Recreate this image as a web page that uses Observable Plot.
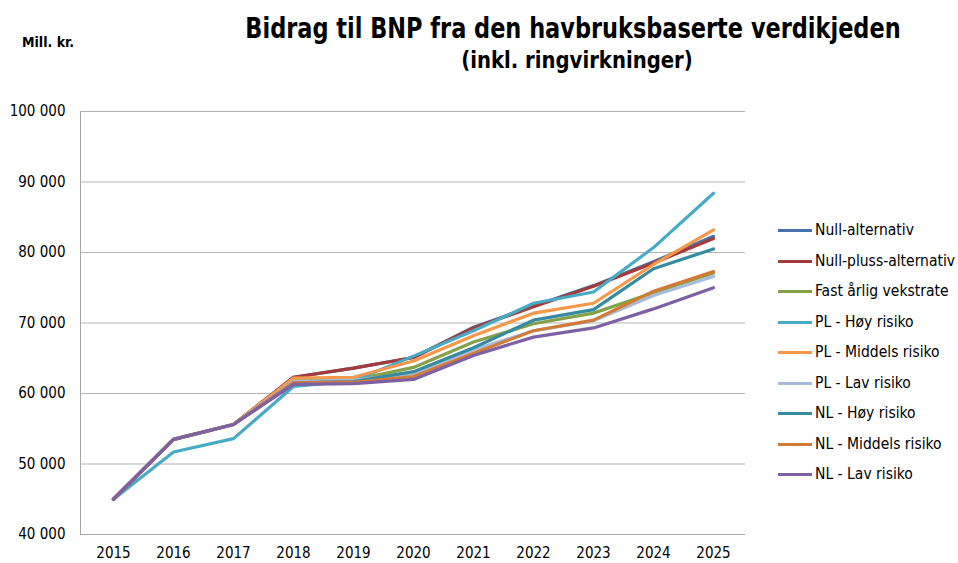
<!DOCTYPE html>
<html><head><meta charset="utf-8">
<script src="https://cdn.jsdelivr.net/npm/d3@7"></script>
<script src="https://cdn.jsdelivr.net/npm/@observablehq/plot@0.6"></script>
<style>
body{margin:0;background:#fff;font-family:"Liberation Sans Narrow","DejaVu Sans Condensed",sans-serif;color:#000;}
#wrap{position:relative;width:958px;height:563px;overflow:hidden;}
#head{position:relative;height:90px;}
#title{position:absolute;left:0;width:1146px;top:11px;text-align:center;font-weight:bold;font-size:29px;white-space:nowrap;transform:scaleX(0.86);transform-origin:573px 0;}
#sub{position:absolute;left:0;width:1154px;top:47px;text-align:center;font-weight:bold;font-size:23px;white-space:nowrap;transform:scaleX(0.95);transform-origin:577px 0;}
#unit{position:absolute;left:22px;top:34px;font-weight:bold;font-size:14px;}
#legend{position:absolute;left:778px;top:0;}
.row{position:absolute;left:0;white-space:nowrap;font-size:15.5px;height:20px;}
.sw{position:absolute;left:0;top:9px;width:34px;height:3px;}
.lb{position:absolute;left:37px;top:0;line-height:20px;}
</style></head><body>
<div id="wrap">
  <div id="head"><div id="unit">Mill. kr.</div><div id="title">Bidrag til BNP fra den havbruksbaserte verdikjeden</div><div id="sub">(inkl. ringvirkninger)</div></div>
  <div id="chart"></div>
  <div id="legend"></div>
</div>
<script>
const years = [2015,2016,2017,2018,2019,2020,2021,2022,2023,2024,2025];
const seriesNames = ["Null-alternativ","Null-pluss-alternativ","Fast årlig vekstrate","PL - Høy risiko","PL - Middels risiko","PL - Lav risiko","NL - Høy risiko","NL - Middels risiko","NL - Lav risiko"];
const seriesColors = ["#4672B0","#A23B39","#85A14A","#48ABC6","#F7974A","#A8BBDB","#378A9F","#D27B36","#7E61A4"];
const nullAlt   = [45000,53500,55600,62300,63600,65100,69400,72400,75300,78700,82300];
const nullPluss = [45000,53500,55600,62300,63600,65100,69300,72300,75200,78500,82000];
const fast      = [45000,53500,55600,61800,61900,63700,67300,69900,71400,74300,77100];
const plHoy     = [45000,51700,53600,61000,61800,65300,68900,72800,74400,80700,88400];
const plMid     = [45000,53500,55600,62200,62300,64600,68200,71400,72800,78300,83200];
const plLav     = [45000,53500,55600,61700,61900,62800,66200,68900,70300,73900,76600];
const nlHoy     = [45000,53500,55600,61500,61700,63100,66500,70400,71900,77700,80500];
const nlMid     = [45000,53500,55600,61500,61600,62400,65700,68900,70400,74500,77300];
const nlLav     = [45000,53500,55600,61300,61400,62000,65400,68000,69300,72000,75000];
const seriesValues = [nullAlt,nullPluss,fast,plHoy,plMid,plLav,nlHoy,nlMid,nlLav];
const yTicks = [40000,50000,60000,70000,80000,90000,100000];

const rows = [];
seriesNames.forEach((s,i)=>years.forEach((y,j)=>rows.push({series:s,year:y,value:seriesValues[i][j]})));

const fmt = d => d3.format(",")(d).replace(/,/g," ");
const chart = Plot.plot({
  width:958, height:473,
  marginLeft:80, marginRight:213, marginTop:21, marginBottom:29,
  style:{fontFamily:'"Liberation Sans Narrow","DejaVu Sans Condensed",sans-serif', color:"#000", background:"#fff"},
  x:{type:"point", domain:years, padding:0.5, align:0.5},
  y:{domain:[40000,100000]},
  color:{domain:seriesNames, range:seriesColors},
  marks:[
    Plot.gridY(yTicks,{stroke:"#b4b4b4", strokeOpacity:1, strokeWidth:1}),
    Plot.frame({anchor:"left", stroke:"#a6a6a6"}),
    Plot.ruleY([40000],{stroke:"#a6a6a6"}),
    Plot.axisY(yTicks,{tickSize:0, tickPadding:15, tickFormat:fmt, fontSize:15, label:null}),
    Plot.axisX({tickSize:0, tickPadding:13, tickFormat:d=>String(d), fontSize:15, label:null}),
    Plot.line(rows,{x:"year", y:"value", z:"series", stroke:"series", strokeWidth:3.2, strokeLinejoin:"round", strokeLinecap:"round"})
  ]
});
document.getElementById("chart").appendChild(chart);

const leg = document.getElementById("legend");
seriesNames.forEach((s,i)=>{
  const r = document.createElement("div");
  r.className="row";
  r.style.top = (220 + i*30.5) + "px";
  r.innerHTML = `<div class="sw" style="background:${seriesColors[i]}"></div><div class="lb">${s}</div>`;
  leg.appendChild(r);
});
</script>
</body></html>
